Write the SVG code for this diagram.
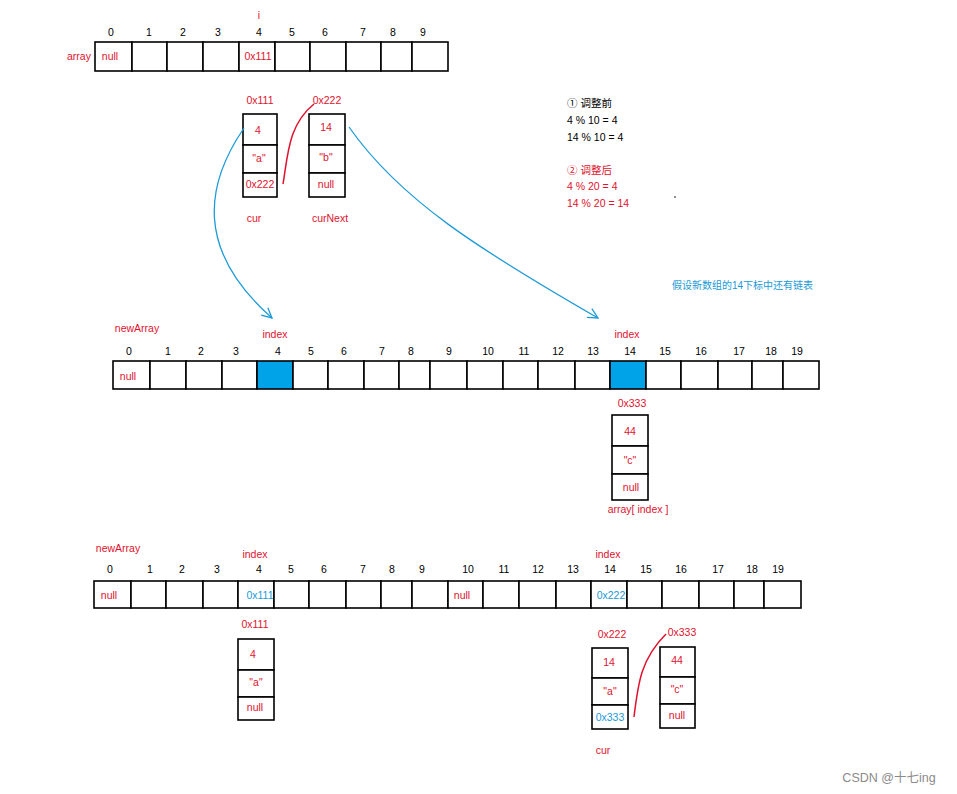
<svg xmlns="http://www.w3.org/2000/svg" width="957" height="794" viewBox="0 0 957 794">
<style>
text{font-family:"Liberation Sans","Noto Sans CJK SC",sans-serif;font-size:10.5px;text-anchor:middle}
.k{fill:#000}
.r{fill:#e0122e}
.b{fill:#1a9ad6}
.l{text-anchor:start}
.c{fill:#fff;stroke:#000;stroke-width:1.6}
.f{fill:#00a2e8;stroke:#000;stroke-width:1.6}
.rl{fill:none;stroke:#e0122e;stroke-width:1.5}
.bl{fill:none;stroke:#1e9bd7;stroke-width:1.3}
</style>
<defs>
<marker id="ah" viewBox="0 0 12 12" refX="11" refY="6" markerWidth="12" markerHeight="12" markerUnits="userSpaceOnUse" orient="auto">
<path d="M1,1 L11,6 L1,11" fill="none" stroke="#1e9bd7" stroke-width="1.3"/>
</marker>
</defs>
<rect width="957" height="794" fill="#fff"/>

<g id="array">
<text class="r" x="259" y="19">i</text>
<text class="r" x="79" y="60">array</text>
<g class="k">
<text x="111" y="36">0</text><text x="149" y="36">1</text><text x="183" y="36">2</text><text x="218" y="36">3</text><text x="259" y="36">4</text><text x="292" y="36">5</text><text x="325" y="36">6</text><text x="363" y="36">7</text><text x="393" y="36">8</text><text x="423" y="36">9</text>
</g>
<rect class="c" x="95" y="42" width="37" height="29"/><rect class="c" x="132" y="42" width="35" height="29"/><rect class="c" x="167" y="42" width="36" height="29"/><rect class="c" x="203" y="42" width="36" height="29"/><rect class="c" x="239" y="42" width="36" height="29"/><rect class="c" x="275" y="42" width="35" height="29"/><rect class="c" x="310" y="42" width="36" height="29"/><rect class="c" x="346" y="42" width="35" height="29"/><rect class="c" x="381" y="42" width="31" height="29"/><rect class="c" x="412" y="42" width="36" height="29"/>
<text class="r" x="110" y="60">null</text>
<text class="r" x="258" y="60">0x111</text>
</g>

<g id="node-cur">
<text class="r" x="260" y="104">0x111</text>
<rect class="c" x="243" y="114" width="34" height="31"/><rect class="c" x="243" y="145" width="34" height="28"/><rect class="c" x="243" y="173" width="34" height="24"/>
<text class="r" x="258" y="134">4</text>
<text class="r" x="259" y="162">"a"</text>
<text class="r" x="260" y="188">0x222</text>
<text class="r" x="254" y="222">cur</text>
</g>

<g id="node-curNext">
<text class="r" x="327" y="104">0x222</text>
<rect class="c" x="309" y="114" width="36" height="31"/><rect class="c" x="309" y="145" width="36" height="28"/><rect class="c" x="309" y="173" width="36" height="24"/>
<text class="r" x="326" y="131">14</text>
<text class="r" x="326" y="161">"b"</text>
<text class="r" x="326" y="188">null</text>
<text class="r" x="330" y="222">curNext</text>
</g>

<g id="notes">
<text class="k l" x="567" y="107">① 调整前</text>
<text class="k l" x="567" y="124">4 % 10 = 4</text>
<text class="k l" x="567" y="141">14 % 10 = 4</text>
<text class="r l" x="567" y="174">② 调整后</text>
<text class="r l" x="567" y="190">4 % 20 = 4</text>
<text class="r l" x="567" y="207">14 % 20 = 14</text>
<circle cx="675" cy="197" r="0.8" fill="#000"/>
<text class="b l" x="672" y="289" style="font-size:10px">假设新数组的14下标中还有链表</text>
</g>

<g id="newArray">
<text class="r" x="137" y="332">newArray</text>
<text class="r" x="275" y="338">index</text>
<text class="r" x="627" y="338">index</text>
<g class="k">
<text x="129" y="355">0</text><text x="168" y="355">1</text><text x="201" y="355">2</text><text x="236" y="355">3</text><text x="278" y="355">4</text><text x="311" y="355">5</text><text x="344" y="355">6</text><text x="382" y="355">7</text><text x="411" y="355">8</text><text x="449" y="355">9</text><text x="488" y="355">10</text><text x="524" y="355">11</text><text x="558" y="355">12</text><text x="593" y="355">13</text><text x="630" y="355">14</text><text x="665" y="355">15</text><text x="701" y="355">16</text><text x="739" y="355">17</text><text x="771" y="355">18</text><text x="797" y="355">19</text>
</g>
<rect class="c" x="113" y="361" width="37" height="28"/><rect class="c" x="150" y="361" width="36" height="28"/><rect class="c" x="186" y="361" width="36" height="28"/><rect class="c" x="222" y="361" width="35" height="28"/><rect class="f" x="257" y="361" width="36" height="28"/><rect class="c" x="293" y="361" width="35" height="28"/><rect class="c" x="328" y="361" width="36" height="28"/><rect class="c" x="364" y="361" width="35" height="28"/><rect class="c" x="399" y="361" width="31" height="28"/><rect class="c" x="430" y="361" width="37" height="28"/><rect class="c" x="467" y="361" width="36" height="28"/><rect class="c" x="503" y="361" width="35" height="28"/><rect class="c" x="538" y="361" width="37" height="28"/><rect class="c" x="575" y="361" width="35" height="28"/><rect class="f" x="610" y="361" width="36" height="28"/><rect class="c" x="646" y="361" width="35" height="28"/><rect class="c" x="681" y="361" width="37" height="28"/><rect class="c" x="718" y="361" width="34" height="28"/><rect class="c" x="752" y="361" width="31" height="28"/><rect class="c" x="783" y="361" width="36" height="28"/>
<text class="r" x="128" y="380">null</text>
</g>

<g id="node-0x333">
<text class="r" x="632" y="407">0x333</text>
<rect class="c" x="612" y="415" width="36" height="31"/><rect class="c" x="612" y="446" width="36" height="28"/><rect class="c" x="612" y="474" width="36" height="26"/>
<text class="r" x="630" y="435">44</text>
<text class="r" x="630" y="464">"c"</text>
<text class="r" x="631" y="491">null</text>
<text class="r" x="638" y="513">array[ index ]</text>
</g>

<g id="newArray2">
<text class="r" x="118" y="552">newArray</text>
<text class="r" x="255" y="558">index</text>
<text class="r" x="608" y="558">index</text>
<g class="k">
<text x="110" y="573">0</text><text x="150" y="573">1</text><text x="182" y="573">2</text><text x="217" y="573">3</text><text x="259" y="573">4</text><text x="291" y="573">5</text><text x="324" y="573">6</text><text x="363" y="573">7</text><text x="392" y="573">8</text><text x="422" y="573">9</text><text x="468" y="573">10</text><text x="504" y="573">11</text><text x="538" y="573">12</text><text x="573" y="573">13</text><text x="610" y="573">14</text><text x="646" y="573">15</text><text x="681" y="573">16</text><text x="718" y="573">17</text><text x="752" y="573">18</text><text x="778" y="573">19</text>
</g>
<rect class="c" x="94" y="581" width="37" height="27"/><rect class="c" x="131" y="581" width="35" height="27"/><rect class="c" x="166" y="581" width="37" height="27"/><rect class="c" x="203" y="581" width="35" height="27"/><rect class="c" x="238" y="581" width="36" height="27"/><rect class="c" x="274" y="581" width="35" height="27"/><rect class="c" x="309" y="581" width="37" height="27"/><rect class="c" x="346" y="581" width="35" height="27"/><rect class="c" x="381" y="581" width="31" height="27"/><rect class="c" x="412" y="581" width="36" height="27"/><rect class="c" x="448" y="581" width="35" height="27"/><rect class="c" x="483" y="581" width="36" height="27"/><rect class="c" x="519" y="581" width="37" height="27"/><rect class="c" x="556" y="581" width="35" height="27"/><rect class="c" x="591" y="581" width="36" height="27"/><rect class="c" x="627" y="581" width="35" height="27"/><rect class="c" x="662" y="581" width="37" height="27"/><rect class="c" x="699" y="581" width="35" height="27"/><rect class="c" x="734" y="581" width="30" height="27"/><rect class="c" x="764" y="581" width="37" height="27"/>
<text class="r" x="109" y="599">null</text>
<text class="b" x="260" y="599">0x111</text>
<text class="r" x="462" y="599">null</text>
<text class="b" x="611" y="599">0x222</text>
</g>

<g id="node-0x111-b">
<text class="r" x="255" y="628">0x111</text>
<rect class="c" x="238" y="639" width="36" height="31"/><rect class="c" x="238" y="670" width="36" height="27"/><rect class="c" x="238" y="697" width="36" height="23"/>
<text class="r" x="253" y="658">4</text>
<text class="r" x="256" y="686">"a"</text>
<text class="r" x="255" y="711">null</text>
</g>

<g id="node-cur-b">
<text class="r" x="612" y="638">0x222</text>
<rect class="c" x="592" y="648" width="36" height="30"/><rect class="c" x="592" y="678" width="36" height="27"/><rect class="c" x="592" y="705" width="36" height="24"/>
<text class="r" x="609" y="666">14</text>
<text class="r" x="610" y="695">"a"</text>
<text class="b" x="610" y="721">0x333</text>
<text class="r" x="603" y="754">cur</text>
</g>

<g id="node-0x333-b">
<text class="r" x="682" y="636">0x333</text>
<rect class="c" x="660" y="647" width="35" height="30"/><rect class="c" x="660" y="677" width="35" height="27"/><rect class="c" x="660" y="704" width="35" height="24"/>
<text class="r" x="677" y="664">44</text>
<text class="r" x="677" y="693">"c"</text>
<text class="r" x="677" y="719">null</text>
</g>

<g id="connectors">
<path class="rl" d="M283,184 C288,155 288,125 314,104"/>
<path class="rl" d="M634,717 C638,685 640,660 666,634"/>
<path class="bl" d="M244,128 C205,185 195,250 272,318" marker-end="url(#ah)"/>
<path class="bl" d="M349,127 C400,200 480,250 598,318" marker-end="url(#ah)"/>
</g>

<text x="889" y="782" style="font-size:12.5px;fill:#8a8a8a">CSDN @十七ing</text>
</svg>
